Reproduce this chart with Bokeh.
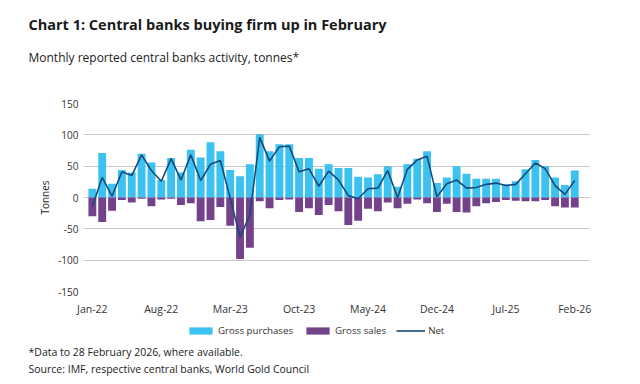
from bokeh.plotting import figure
from bokeh.models import Range1d, Label, Legend, LegendItem, FixedTicker, ColumnDataSource
from bokeh.layouts import column
from bokeh.embed import file_html
from bokeh.resources import INLINE

months = ["Jan-22","Feb-22","Mar-22","Apr-22","May-22","Jun-22","Jul-22","Aug-22","Sep-22","Oct-22","Nov-22","Dec-22",
          "Jan-23","Feb-23","Mar-23","Apr-23","May-23","Jun-23","Jul-23","Aug-23","Sep-23","Oct-23","Nov-23","Dec-23",
          "Jan-24","Feb-24","Mar-24","Apr-24","May-24","Jun-24","Jul-24","Aug-24","Sep-24","Oct-24","Nov-24","Dec-24",
          "Jan-25","Feb-25","Mar-25","Apr-25","May-25","Jun-25","Jul-25","Aug-25","Sep-25","Oct-25","Nov-25","Dec-25",
          "Jan-26","Feb-26"]
gross_purchases = [14, 71, 22, 44, 40, 70, 56, 28, 63, 40, 76, 64,
                   88, 74, 44, 34, 53, 101, 74, 85, 85, 63, 63, 46,
                   53, 47, 47, 33, 32, 37, 50, 17, 53, 62, 74, 23,
                   32, 50, 38, 30, 30, 30, 21, 26, 45, 60, 50, 32,
                   20, 43]
gross_sales = [-30, -39, -21, -4, -8, -2, -14, -3, -2, -12, -9, -38,
               -36, -15, -45, -98, -80, -6, -17, -4, -3, -23, -17, -28,
               -12, -22, -44, -37, -18, -22, -8, -17, -10, -3, -9, -23,
               -10, -23, -24, -14, -9, -7, -4, -5, -6, -6, -4, -14,
               -16, -16]
net = [-14, 32, 2, 41, 35, 68, 43, 26, 62, 28, 68, 27,
       53, 59, -1, -63, -28, 96, 58, 81, 82, 41, 46, 18,
       42, 28, 3, -2, 14, 15, 43, 0, 45, 60, 66, 1,
       22, 28, 15, 16, 21, 23, 19, 21, 38, 55, 46, 19,
       5, 27]
y_ticks = [-150, -100, -50, 0, 50, 100, 150]
x_tick_idx = [0, 7, 14, 21, 28, 35, 42, 49]

idx = list(range(len(months)))
src = ColumnDataSource(dict(x=idx, gp=gross_purchases, gs=gross_sales, net=net))

FONT = "Open Sans"
BLUE = "#3BC2F0"
PURPLE = "#74418B"
NAVY = "#144A7A"
W = 640

def helper(h):
    f = figure(width=W, height=h, output_backend="svg", toolbar_location=None,
               x_range=Range1d(0, W), y_range=Range1d(0, h),
               x_axis_location=None, y_axis_location=None,
               min_border=0, min_border_left=0, min_border_right=0,
               min_border_top=0, min_border_bottom=0, frame_align=False)
    f.outline_line_color = None
    f.grid.visible = False
    return f

def lab(f, text, x, y, size, bold=False, color="#222222"):
    f.add_layout(Label(x=x, y=y, text=text, text_font=FONT, text_font_size=size,
                       text_font_style="bold" if bold else "normal",
                       text_color=color, text_baseline="middle", text_align="left"))

# ---- header ----
top = helper(88)
lab(top, "Chart 1: Central banks buying firm up in February", 28, 64, "14.5px", bold=True, color="#1a1a1a")
lab(top, "Monthly reported central banks activity, tonnes*", 28, 31, "12px")

# ---- main chart ----
p = figure(width=W, height=230, output_backend="svg", toolbar_location=None,
           x_range=Range1d(-0.9, 50.6), y_range=Range1d(-150, 150),
           min_border_left=83, min_border_right=50, min_border_top=15, min_border_bottom=24,
           frame_align=False)
p.outline_line_color = None

p.vbar(x="x", top="gp", bottom=0, width=0.8, source=src, fill_color=BLUE, line_color=None)
p.vbar(x="x", top=0, bottom="gs", width=0.8, source=src, fill_color=PURPLE, line_color=None)
p.line(x="x", y="net", source=src, line_color=NAVY, line_width=1.6)

p.xgrid.grid_line_color = None
p.ygrid.grid_line_color = "#C8C8C8"
p.ygrid.grid_line_width = 1
p.yaxis.ticker = FixedTicker(ticks=y_ticks)
p.yaxis.major_label_overrides = {t: str(t) for t in y_ticks}
p.xaxis.ticker = FixedTicker(ticks=x_tick_idx)
p.xaxis.major_label_overrides = {i: months[i] for i in x_tick_idx}
for ax in (p.xaxis[0], p.yaxis[0]):
    ax.axis_line_color = None
    ax.major_tick_line_color = None
    ax.minor_tick_line_color = None
    ax.major_tick_out = 0
    ax.major_tick_in = 0
    ax.minor_tick_out = 0
    ax.minor_tick_in = 0
    ax.major_label_text_font = FONT
    ax.major_label_text_color = "#333333"
p.xaxis.major_label_text_font_size = "10.5px"
p.yaxis.major_label_text_font_size = "10px"
p.xaxis.major_label_standoff = 10
p.yaxis.major_label_standoff = 5
p.yaxis.axis_label = "Tonnes"
p.yaxis.axis_label_text_font = FONT
p.yaxis.axis_label_text_font_size = "10px"
p.yaxis.axis_label_text_font_style = "normal"
p.yaxis.axis_label_text_color = "#222222"
p.yaxis.axis_label_standoff = 3

# ---- footer with legend ----
bot = helper(66)
nan = float("nan")
key_src = ColumnDataSource(dict(x=[nan], top=[nan], y=[nan]))
k_gp = bot.vbar(x="x", top="top", width=1, source=key_src, fill_color=BLUE, line_color=None)
k_gs = bot.vbar(x="x", top="top", width=1, source=key_src, fill_color=PURPLE, line_color=None)
k_net = bot.line(x="x", y="y", source=key_src, line_color=NAVY, line_width=1.6)
legend = Legend(items=[LegendItem(label="Gross purchases", renderers=[k_gp]),
                       LegendItem(label="Gross sales", renderers=[k_gs]),
                       LegendItem(label="Net", renderers=[k_net])],
                location=(186, 47), orientation="horizontal",
                glyph_width=29, glyph_height=9, label_standoff=3, spacing=10,
                padding=0, margin=0, border_line_color=None, background_fill_alpha=0,
                label_text_font=FONT, label_text_font_size="9.7px", label_text_color="#333333",
                label_height=9)
bot.add_layout(legend, "center")
lab(bot, "*Data to 28 February 2026, where available.", 28, 33, "10.5px")
lab(bot, "Source: IMF, respective central banks, World Gold Council", 28, 16, "10.5px")

layout = column(top, p, bot, spacing=0)
open("out.html", "w").write(file_html(layout, INLINE))
